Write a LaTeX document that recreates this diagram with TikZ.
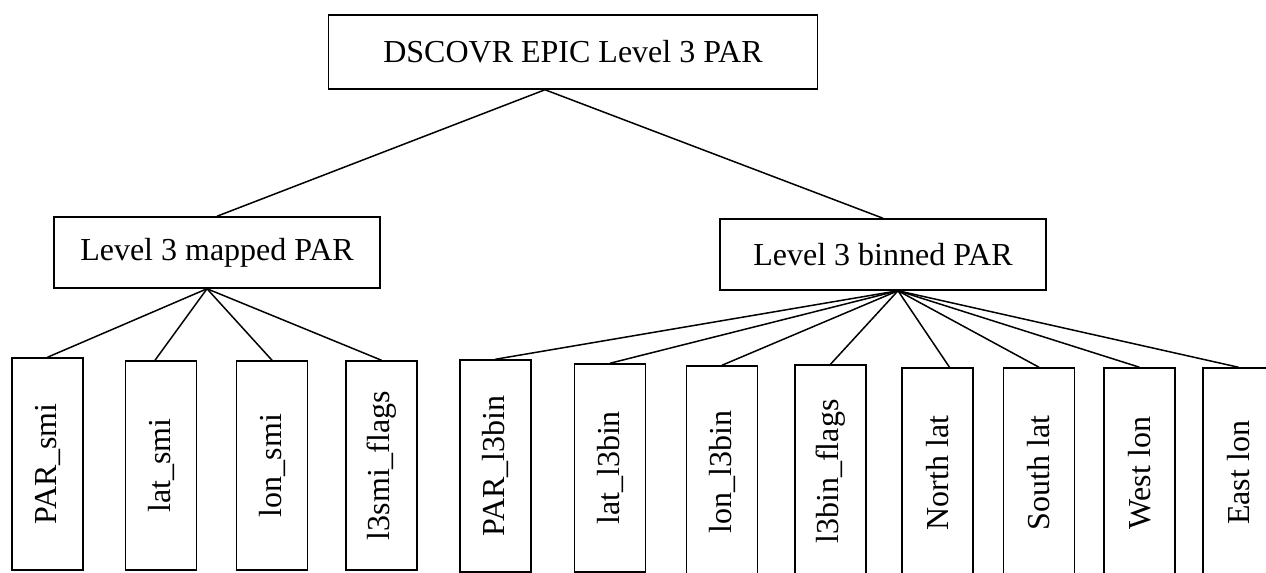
\documentclass[tikz,border=0pt]{standalone}
\usepackage{fontspec}
\setmainfont{Liberation Serif}
\tikzset{
  box/.style={draw=black, line width=0.75pt, inner sep=0pt, align=center,
              font=\fontsize{16}{19}\selectfont},
  topbox/.style={box, minimum width=244.5pt, minimum height=37pt},
  levelbox/.style={box, minimum width=163pt, minimum height=35.5pt},
  leafbox/.style={box, minimum width=35.5pt},
  link/.style={draw=black, line width=0.75pt}
}
\newcommand{\vtext}[1]{\rotatebox{90}{#1}}

\begin{document}
\begin{tikzpicture}[x=0.5pt, y=-0.5pt]
\useasboundingbox (0,0) rectangle (1266,573);
% root and the two product levels
\node[topbox] (root) at (573,52) {DSCOVR EPIC Level 3 PAR};
\node[levelbox] (mapped) at (217,252.5) {Level 3 mapped PAR};
\node[levelbox] (binned) at (883,254.5) {Level 3 binned PAR};
% mapped variables
\node[leafbox, minimum height=106pt] (parsmi) at (47.5,464) {\vtext{PAR\_smi}};
\node[leafbox, minimum height=104.5pt] (latsmi) at (161,465.5) {\vtext{lat\_smi}};
\node[leafbox, minimum height=104.5pt] (lonsmi) at (272,465.5) {\vtext{lon\_smi}};
\node[leafbox, minimum height=104.5pt] (flagsmi) at (381.5,465.5) {\vtext{l3smi\_flags}};
% binned variables
\node[leafbox, minimum height=106pt] (parbin) at (495.5,466) {\vtext{PAR\_l3bin}};
\node[leafbox, minimum height=104pt] (latbin) at (610,468) {\vtext{lat\_l3bin}};
\node[leafbox, minimum height=106pt] (lonbin) at (722,472) {\vtext{lon\_l3bin}};
\node[leafbox, minimum height=106.5pt] (flagbin) at (830.5,471.5) {\vtext{l3bin\_flags}};
\node[leafbox, minimum height=105pt] (northlat) at (937.5,473) {\vtext{North lat}};
\node[leafbox, minimum height=105pt] (southlat) at (1039,473) {\vtext{South lat}};
\node[leafbox, minimum height=105pt] (westlon) at (1139.5,473) {\vtext{West lon}};
\node[leafbox, minimum height=105pt] (eastlon) at (1238.5,473) {\vtext{East lon}};
% connectors
\draw[link] ([xshift=-14pt]root.south) -- (mapped.north);
\draw[link] ([xshift=-14pt]root.south) -- (binned.north);
\draw[link] ([xshift=-5pt]mapped.south) -- (parsmi.north);
\draw[link] ([xshift=-5pt]mapped.south) -- ([xshift=-3pt]latsmi.north);
\draw[link] ([xshift=-5pt]mapped.south) -- (lonsmi.north);
\draw[link] ([xshift=-5pt]mapped.south) -- (flagsmi.north);
\draw[link] ([xshift=7.5pt]binned.south) -- (parbin.north);
\draw[link] ([xshift=7.5pt]binned.south) -- (latbin.north);
\draw[link] ([xshift=7.5pt]binned.south) -- (lonbin.north);
\draw[link] ([xshift=7.5pt]binned.south) -- (flagbin.north);
\draw[link] ([xshift=7.5pt]binned.south) -- ([xshift=6pt]northlat.north);
\draw[link] ([xshift=7.5pt]binned.south) -- (southlat.north);
\draw[link] ([xshift=7.5pt]binned.south) -- (westlon.north);
\draw[link] ([xshift=7.5pt]binned.south) -- (eastlon.north);
\end{tikzpicture}
\end{document}
